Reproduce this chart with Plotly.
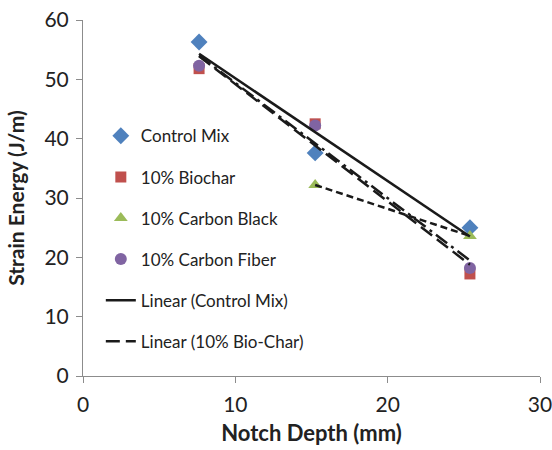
import numpy as np
import plotly.graph_objects as go

notch_depth = [7.62, 15.24, 25.4]
control_mix = [56.3, 37.6, 25.0]
biochar = [51.8, 42.5, 17.2]
cb_depth = [15.24, 25.4]
carbon_black = [32.2, 23.6]
carbon_fiber = [52.3, 42.2, 18.2]

x_ticks = [0, 10, 20, 30]
y_ticks = [0, 10, 20, 30, 40, 50, 60]

FONT = "Lato"

def trend(x, y):
    m, b = np.polyfit(x, y, 1)
    xs = np.array([min(x), max(x)])
    return xs, m * xs + b

fig = go.Figure()

series = [
    ("Control Mix", notch_depth, control_mix, "diamond", "#4F81BD", 13),
    ("10% Biochar", notch_depth, biochar, "square", "#C0504D", 11),
    ("10% Carbon Black", cb_depth, carbon_black, "triangle-up", "#9BBB59", 12),
    ("10% Carbon Fiber", notch_depth, carbon_fiber, "circle", "#8064A2", 12),
]
for i, (name, x, y, sym, col, sz) in enumerate(series):
    fig.add_trace(go.Scatter(x=x, y=y, mode="markers", name=name,
                             legendgroup=f"g{i}",
                             marker=dict(symbol=sym, color=col, size=sz)))

# trendlines not in legend
xs, ys = trend(notch_depth, carbon_fiber)
fig.add_trace(go.Scatter(x=xs, y=ys, mode="lines", showlegend=False,
                         line=dict(color="#1a1a1a", width=2.5, dash="14px,5px,3px,5px")))
xs, ys = trend(cb_depth, carbon_black)
fig.add_trace(go.Scatter(x=xs, y=ys, mode="lines", showlegend=False,
                         line=dict(color="#1a1a1a", width=2.5, dash="7px,4px")))

xs, ys = trend(notch_depth, control_mix)
fig.add_trace(go.Scatter(x=xs, y=ys, mode="lines", name="Linear (Control Mix)",
                         legendgroup="g4",
                         line=dict(color="#1a1a1a", width=2.5)))
xs, ys = trend(notch_depth, biochar)
fig.add_trace(go.Scatter(x=xs, y=ys, mode="lines", name="Linear (10% Bio-Char)",
                         legendgroup="g5",
                         line=dict(color="#1a1a1a", width=2.5, dash="14px,6px")))

axis_common = dict(showgrid=False, zeroline=False, showline=True,
                   linecolor="#8c8c8c", linewidth=1, ticks="outside",
                   ticklen=6, tickcolor="#8c8c8c", automargin=False,
                   ticklabeloverflow="allow",
                   tickfont=dict(family=FONT, size=21, color="#222"))

fig.update_layout(
    width=552, height=450,
    margin=dict(l=83, r=12, t=20, b=74),
    paper_bgcolor="white", plot_bgcolor="white",
    showlegend=True,
    legend=dict(x=0.039, y=0.724, xanchor="left", yanchor="top",
                font=dict(family=FONT, size=17, color="#222"),
                tracegroupgap=16, bgcolor="rgba(0,0,0,0)"),
    xaxis=dict(range=[0, 30], tickvals=x_ticks, ticklabelstandoff=4, **axis_common,
               title=dict(text="<b>Notch Depth (mm)</b>",
                          font=dict(family=FONT, size=22, color="#222"), standoff=10)),
    yaxis=dict(range=[0, 60], tickvals=y_ticks, ticklabelstandoff=3, **axis_common,
               title=dict(text="<b>Strain Energy (J/m)</b>",
                          font=dict(family=FONT, size=21, color="#222"), standoff=14)),
)

fig.write_html("out.html")
